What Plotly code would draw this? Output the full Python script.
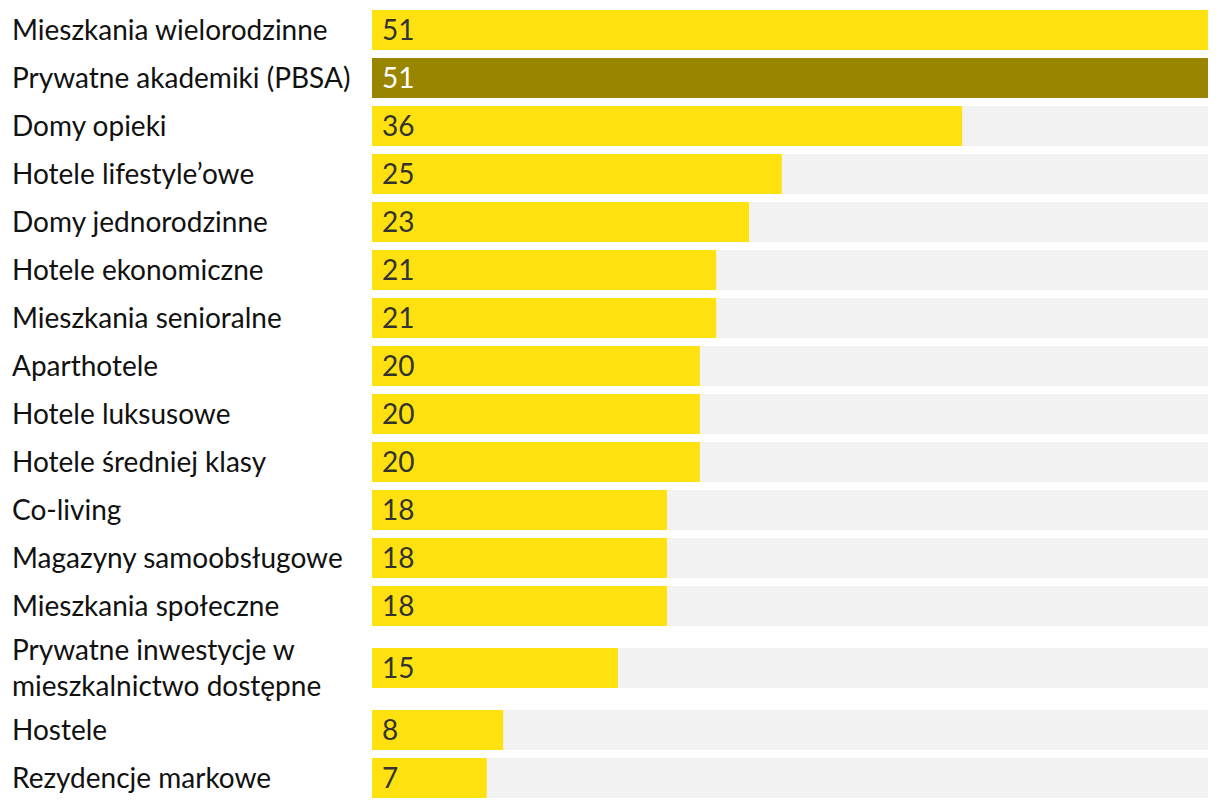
import plotly.graph_objects as go

categories = [
    "Mieszkania wielorodzinne",
    "Prywatne akademiki (PBSA)",
    "Domy opieki",
    "Hotele lifestyle’owe",
    "Domy jednorodzinne",
    "Hotele ekonomiczne",
    "Mieszkania senioralne",
    "Aparthotele",
    "Hotele luksusowe",
    "Hotele średniej klasy",
    "Co-living",
    "Magazyny samoobsługowe",
    "Mieszkania społeczne",
    "Prywatne inwestycje w<br>mieszkalnictwo dostępne",
    "Hostele",
    "Rezydencje markowe",
]
values = [51, 51, 36, 25, 23, 21, 21, 20, 20, 20, 18, 18, 18, 15, 8, 7]
highlight = "Prywatne akademiki (PBSA)"

YELLOW = "#FFE10F"
OLIVE = "#998500"
TRACK = "#F2F2F2"
FONT = "Lato, 'Open Sans', sans-serif"

# row slots: one-line rows and taller rows for wrapped labels
BASE = 48
EXTRA = 28
centers = []
pos = 0
for c in categories:
    h = BASE + EXTRA * c.count("<br>")
    centers.append(pos + h / 2)
    pos += h
total = pos

vmax = max(values)
colors = [OLIVE if c == highlight else YELLOW for c in categories]
txtcolors = ["#FFFFFF" if c == highlight else "#333333" for c in categories]

fig = go.Figure()
fig.add_trace(go.Bar(
    x=[vmax] * len(values), y=centers, orientation="h",
    marker=dict(color=TRACK, line=dict(width=0)), width=40,
    hoverinfo="skip", showlegend=False,
))
fig.add_trace(go.Bar(
    x=values, y=centers, orientation="h",
    marker=dict(color=colors, line=dict(width=0)), width=40,
    showlegend=False,
))

annotations = []
for c, v, yc, tc in zip(categories, values, centers, txtcolors):
    annotations.append(dict(
        x=0, y=yc, xref="x", yref="y", text=str(v), showarrow=False,
        xanchor="left", yanchor="middle", xshift=8, yshift=1,
        font=dict(family=FONT, size=28, color=tc),
    ))
    annotations.append(dict(
        x=-(372 - 10) / 836, y=yc, xref="paper", yref="y", text=c,
        showarrow=False, xanchor="left", yanchor="middle", align="left",
        yshift=1,
        font=dict(family=FONT, size=28, color="#111111"),
    ))

fig.update_layout(
    width=1220, height=808,
    margin=dict(l=372, r=12, t=6, b=6),
    paper_bgcolor="white", plot_bgcolor="white",
    barmode="overlay",
    xaxis=dict(range=[0, vmax], visible=False, fixedrange=True),
    yaxis=dict(range=[total, 0], visible=False, fixedrange=True),
    annotations=annotations,
)
fig.write_html("out.html", config={"displayModeBar": False},
               post_script="document.body.style.margin='0px';")
